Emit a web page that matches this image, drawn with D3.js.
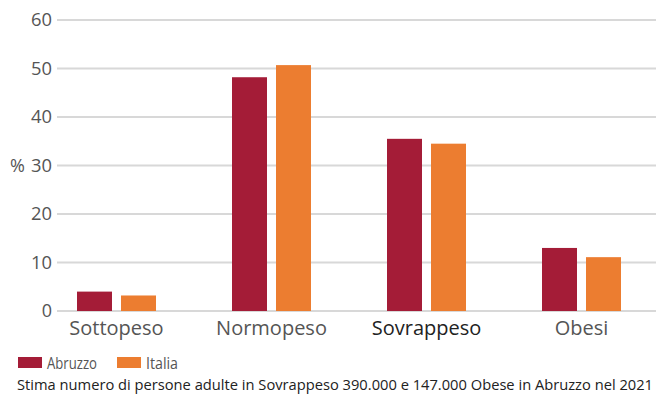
<!DOCTYPE html>
<html>
<head>
<meta charset="utf-8">
<script src="https://cdn.jsdelivr.net/npm/d3@7"></script>
<style>
  html, body { margin: 0; padding: 0; background: #fff; }
  svg { display: block; font-family: "Open Sans", "Noto Sans", sans-serif; }
</style>
</head>
<body>
<svg id="chart" width="658" height="396"></svg>
<script>
// Stato ponderale degli adulti: Abruzzo vs Italia (%)
const categories = ["Sottopeso", "Normopeso", "Sovrappeso", "Obesi"];
const seriesNames = ["Abruzzo", "Italia"];
const abruzzo = [4.0, 48.2, 35.5, 13.0];
const italia = [3.2, 50.7, 34.5, 11.1];
const yTicks = [0, 10, 20, 30, 40, 50, 60];
const footnote = "Stima numero di persone adulte in Sovrappeso 390.000 e 147.000 Obese in Abruzzo nel 2021";

const colors = { Abruzzo: "#a41c37", Italia: "#ec7d30" };
const values = { Abruzzo: abruzzo, Italia: italia };
const legendWidths = { Abruzzo: 50, Italia: 32 };

const svg = d3.select("#chart");

const y = d3.scaleLinear().domain([0, 60]).range([311, 20]);
const x0 = d3.scaleBand().domain(categories).range([39, 659]).padding(0);
const groupW = 79;
const x1 = d3.scaleBand().domain(seriesNames).range([0, groupW]).paddingInner(9 / 44);

// Gridlines
svg.append("g")
  .selectAll("line")
  .data(yTicks)
  .join("line")
  .attr("x1", 57).attr("x2", 656)
  .attr("y1", d => y(d)).attr("y2", d => y(d))
  .attr("stroke", "#d8d8d8")
  .attr("stroke-width", 2);

// Y tick labels
svg.append("g")
  .selectAll("text")
  .data(yTicks)
  .join("text")
  .attr("x", 52)
  .attr("y", d => y(d))
  .attr("dy", "0.36em")
  .attr("text-anchor", "end")
  .attr("font-size", 18)
  .attr("fill", "#555")
  .attr("textLength", 21)
  .attr("lengthAdjust", "spacingAndGlyphs")
  .text(d => d)
  .filter(d => d === 0)
  .attr("textLength", null);

svg.append("text")
  .attr("x", 10).attr("y", y(30)).attr("dy", "0.36em")
  .attr("font-size", 18).attr("fill", "#555")
  .text("%");

// Bars
const groups = svg.append("g")
  .selectAll("g")
  .data(categories)
  .join("g")
  .attr("transform", d => `translate(${x0(d) + x0.bandwidth() / 2 - groupW / 2},0)`);

groups.selectAll("rect")
  .data((c, i) => seriesNames.map(s => ({ s, v: values[s][i] })))
  .join("rect")
  .attr("x", d => x1(d.s))
  .attr("width", x1.bandwidth())
  .attr("y", d => y(d.v))
  .attr("height", d => y(0) - y(d.v))
  .attr("fill", d => colors[d.s]);

// Category labels
svg.append("g")
  .selectAll("text")
  .data(categories)
  .join("text")
  .attr("x", d => x0(d) + x0.bandwidth() / 2)
  .attr("y", 335)
  .attr("text-anchor", "middle")
  .attr("font-size", 20)
  .attr("fill", d => d === "Sovrappeso" ? "#222" : "#555")
  .text(d => d);

// Legend
const legend = svg.append("g")
  .selectAll("g")
  .data(seriesNames)
  .join("g")
  .attr("transform", (d, i) => `translate(${18 + i * 99},357)`);

legend.append("rect")
  .attr("width", 24).attr("height", 11)
  .attr("fill", d => colors[d]);

legend.append("text")
  .attr("x", 29).attr("y", 12)
  .attr("font-size", 16).attr("fill", "#555")
  .attr("textLength", d => legendWidths[d])
  .attr("lengthAdjust", "spacingAndGlyphs")
  .text(d => d);

// Footnote
svg.append("text")
  .attr("x", 17).attr("y", 390)
  .attr("font-size", 14.5)
  .attr("fill", "#222")
  .attr("textLength", 636)
  .attr("lengthAdjust", "spacingAndGlyphs")
  .text(footnote);
</script>
</body>
</html>
